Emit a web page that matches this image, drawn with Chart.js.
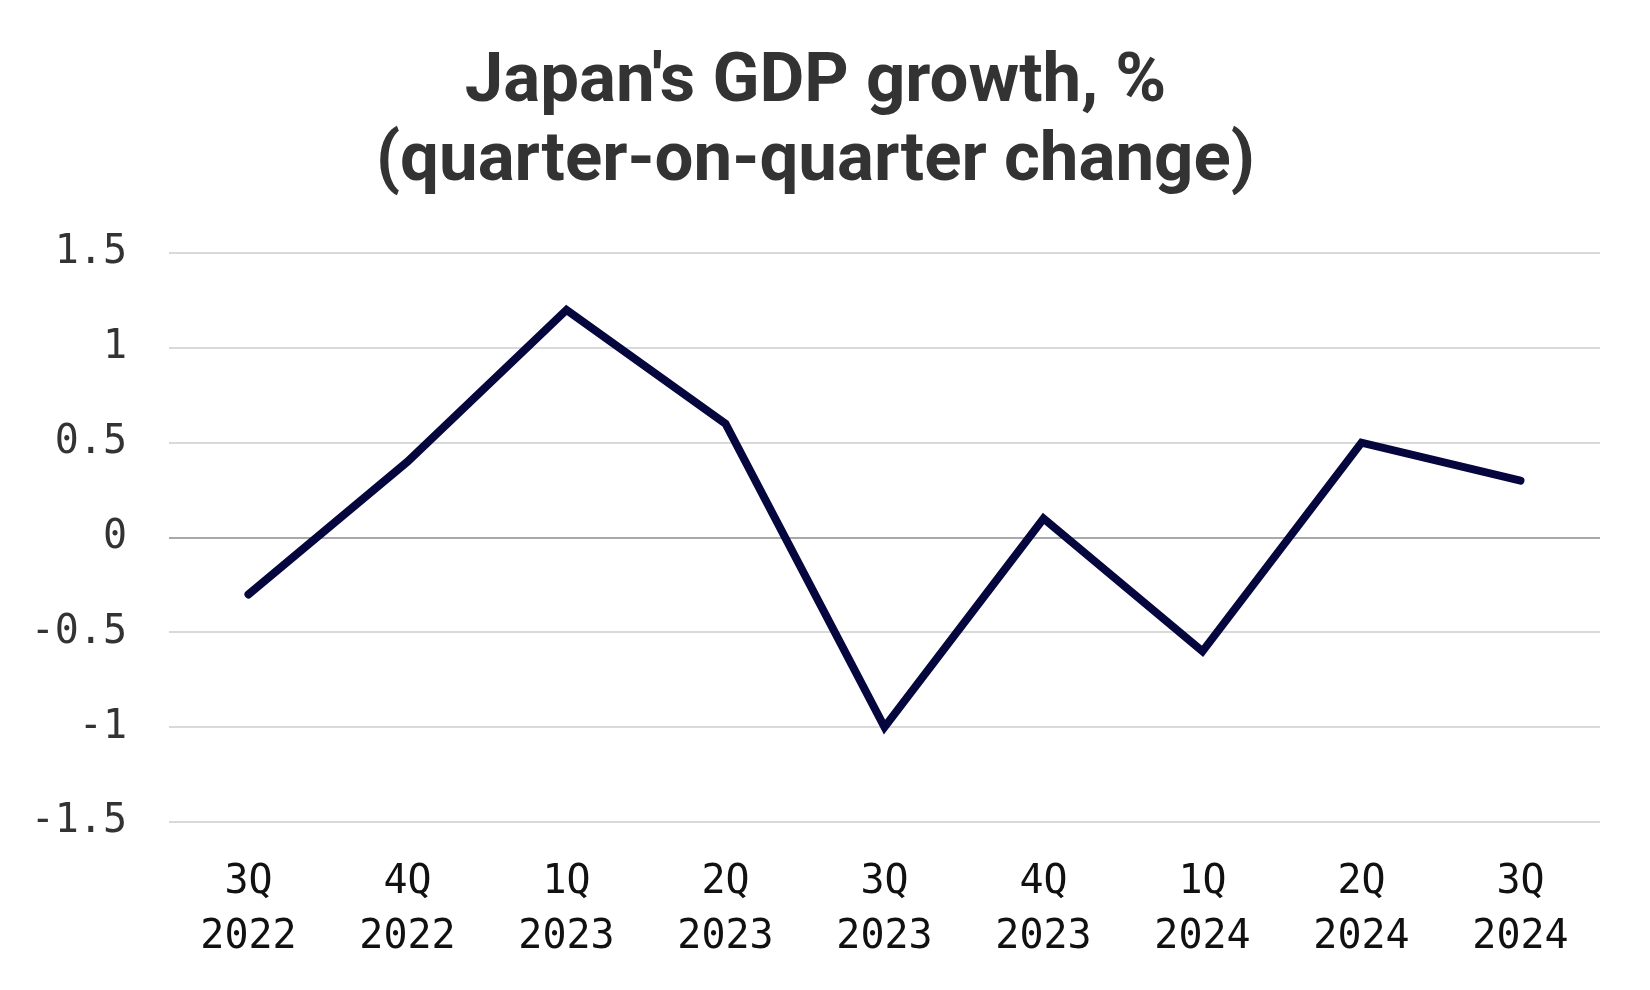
<!DOCTYPE html>
<html>
<head>
<meta charset="utf-8">
<script src="https://cdn.jsdelivr.net/npm/chart.js@4/dist/chart.umd.min.js"></script>
<style>
  html, body { margin: 0; padding: 0; background: #fff; }
  #wrap { width: 1650px; height: 990px; position: relative; }
</style>
</head>
<body>
<div id="wrap"><canvas id="gdp_chart"></canvas></div>
<script>
// quarters, two-line labels
const quarters = [
  ["3Q", "2022"], ["4Q", "2022"], ["1Q", "2023"], ["2Q", "2023"], ["3Q", "2023"],
  ["4Q", "2023"], ["1Q", "2024"], ["2Q", "2024"], ["3Q", "2024"]
];
const gdpGrowth = [-0.3, 0.4, 1.2, 0.6, -1.0, 0.1, -0.6, 0.5, 0.3];
const titleLines = ["Japan's GDP growth, %", "(quarter-on-quarter change)"];

const ctx = document.getElementById("gdp_chart").getContext('2d');

const gdpChart = new Chart(ctx, {
  type: 'line',
  data: {
    labels: quarters,
    datasets: [{
      data: gdpGrowth,
      borderColor: '#06063f',
      borderWidth: 8,
      borderCapStyle: 'round',
      pointRadius: 0,
      tension: 0,
      fill: false
    }]
  },
  options: {
    responsive: true,
    maintainAspectRatio: false,
    animation: false,
    layout: { padding: { left: 31, right: 50, top: 0, bottom: 31 } },
    plugins: {
      legend: { display: false },
      tooltip: { enabled: false },
      title: {
        display: true,
        text: titleLines,
        color: '#333333',
        font: { family: 'Roboto', size: 69, weight: 'bold', lineHeight: 1.145 },
        padding: { top: 44, bottom: 51 }
      }
    },
    scales: {
      x: {
        offset: true,
        grid: { display: false, drawTicks: false },
        border: { display: false },
        afterFit: (s) => { s.height = 137; },
        ticks: {
          color: '#111111',
          padding: 33,
          maxRotation: 0,
          autoSkip: false,
          font: { family: 'DejaVu Sans Mono', size: 40, lineHeight: 1.38 }
        }
      },
      y: {
        min: -1.5,
        max: 1.5,
        border: { display: false },
        afterFit: (s) => { s.width = 138; },
        grid: {
          drawTicks: false,
          lineWidth: 2,
          color: (c) => (c.tick && c.tick.value === 0) ? '#a9a9a9' : '#d9d9d9'
        },
        ticks: {
          stepSize: 0.5,
          color: '#333333',
          padding: 42,
          font: { family: 'DejaVu Sans Mono', size: 40 },
          callback: (v) => String(v)
        }
      }
    }
  }
});
</script>
</body>
</html>
